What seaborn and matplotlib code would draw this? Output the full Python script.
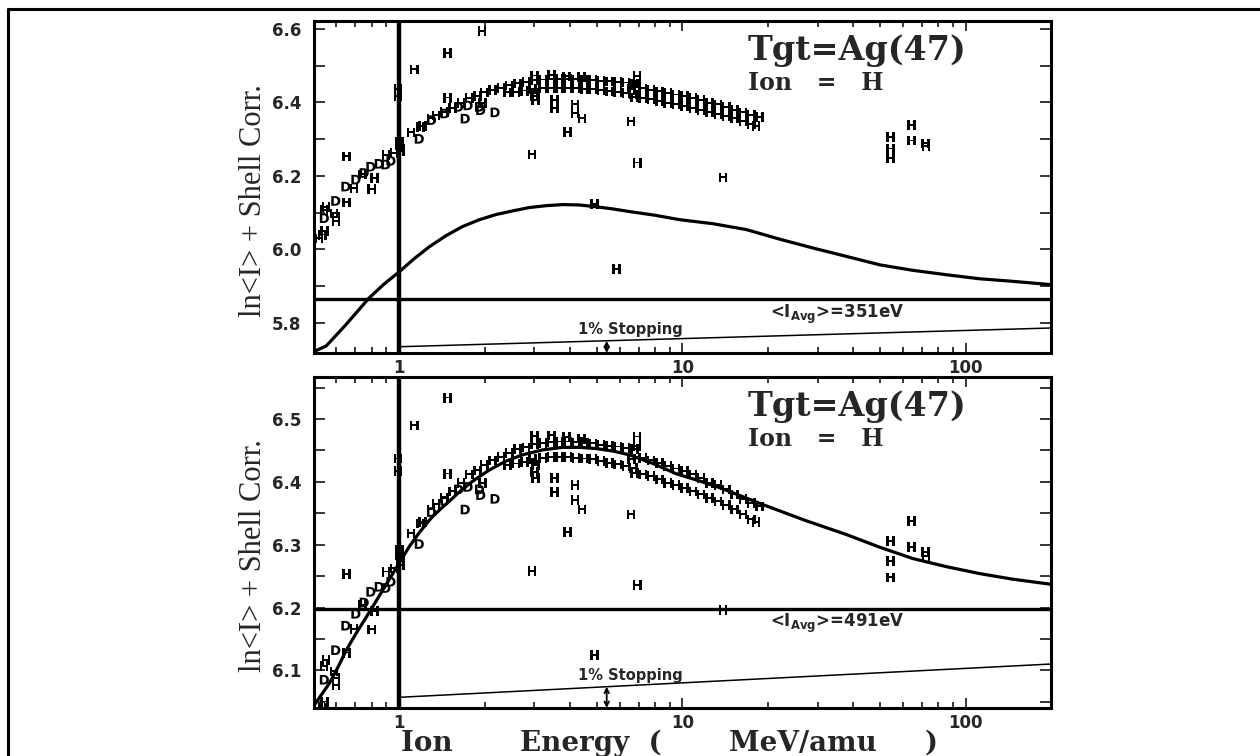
import numpy as np
import pandas as pd
import matplotlib
matplotlib.use("Agg")
import matplotlib.pyplot as plt
from matplotlib.lines import Line2D
from matplotlib.ticker import MultipleLocator, FormatStrFormatter, FixedLocator, NullFormatter
import seaborn as sns

sns.set_style("ticks")
plt.rcParams['font.family'] = ['DejaVu Sans']
plt.rcParams['font.weight'] = 'bold'
plt.rcParams['mathtext.fontset'] = 'dejavusans'

# --- experimental points (same data in both panels) ---
h_energy = [1.48, 1.13, 1.96, 0.652, 0.80, 2.94, 6.92, 6.59, 3.93, 4.89, 3.53, 3.53, 4.18, 4.18,
            4.42, 3.03, 3.0, 3.03, 1.97, 1.48, 13.9, 5.85, 1.10, 1.19,
            54.2, 54.2, 54.2, 64.3, 64.3, 72.2, 72.5,
            3.0, 3.45, 3.9, 4.4, 6.9, 6.9, 6.6, 6.7,
            0.551, 0.543, 0.589, 0.598, 0.652, 0.693, 0.817, 0.742, 0.897, 0.96, 0.535, 0.545, 0.52, 0.598,
            0.99, 0.99, 1.0, 1.0, 1.01, 1.01]
h_value = [6.534, 6.490, 6.594, 6.253, 6.165, 6.258, 6.236, 6.348, 6.320, 6.124, 6.406, 6.384, 6.395, 6.371,
           6.356, 6.406, 6.416, 6.427, 6.398, 6.413, 6.196, 5.947, 6.318, 6.334,
           6.306, 6.274, 6.248, 6.338, 6.296, 6.288, 6.281,
           6.473, 6.474, 6.471, 6.469, 6.472, 6.457, 6.436, 6.422,
           6.116, 6.107, 6.098, 6.076, 6.128, 6.166, 6.194, 6.204, 6.257, 6.262, 6.040, 6.050, 6.030, 6.088,
           6.437, 6.417, 6.292, 6.283, 6.275, 6.268]

band_hi_energy = [1.209, 1.294, 1.348, 1.442, 1.543, 1.652, 1.767, 1.891, 1.997, 2.137, 2.287, 2.447,
                  2.618, 2.803, 3.0, 3.21, 3.435, 3.676, 3.935, 4.21, 4.506, 4.82, 5.16, 5.52, 5.91,
                  6.32, 6.77, 7.24, 7.75, 8.29, 8.87, 9.50, 10.16, 10.88, 11.64, 12.46, 13.33, 14.27,
                  15.27, 16.34, 17.49, 18.71]
band_hi_value = [6.336, 6.356, 6.365, 6.374, 6.385, 6.398, 6.412, 6.418, 6.427, 6.434, 6.440, 6.446,
                 6.452, 6.455, 6.460, 6.462, 6.463, 6.464, 6.464, 6.463, 6.462, 6.461, 6.459, 6.457, 6.456,
                 6.454, 6.452, 6.438, 6.434, 6.430, 6.425, 6.421, 6.417, 6.412, 6.406, 6.398, 6.395, 6.388,
                 6.380, 6.373, 6.366, 6.361]

band_lo_energy = [2.414, 2.584, 2.765, 2.958, 3.21, 3.435, 3.676, 3.935, 4.21, 4.506, 4.82, 5.16, 5.52,
                  5.91, 6.32, 6.77, 7.24, 7.75, 8.29, 8.87, 9.50, 10.16, 10.88, 11.64, 12.46, 13.33,
                  14.27, 15.27, 16.34, 17.49, 18.2]
band_lo_value = [6.427, 6.429, 6.432, 6.436, 6.438, 6.440, 6.440, 6.440, 6.438, 6.437, 6.436, 6.433, 6.430,
                 6.428, 6.425, 6.414, 6.412, 6.409, 6.404, 6.398, 6.395, 6.390, 6.385, 6.380, 6.374, 6.369,
                 6.363, 6.356, 6.348, 6.340, 6.336]

d_energy = [0.597, 0.648, 0.703, 0.752, 0.794, 0.850, 0.897, 0.935, 0.544, 1.177, 1.71, 1.94, 1.92, 2.18,
            1.3, 1.45, 1.62, 1.75]
d_value = [6.132, 6.171, 6.190, 6.208, 6.225, 6.233, 6.231, 6.241, 6.085, 6.301, 6.356, 6.379, 6.388, 6.373,
           6.352, 6.370, 6.388, 6.392]

# --- theory curves ---
fit351_energy = [0.5, 0.552, 0.648, 0.783, 0.885, 1.0, 1.13, 1.276, 1.46, 1.67, 1.92, 2.20, 2.52, 2.88,
                 3.3, 3.77, 4.32, 4.97, 5.7, 6.50, 8.0, 9.75, 12.8, 16.8, 22.0, 28.8, 37.9, 49.7, 65.1,
                 85.5, 112, 147, 200]
fit351_value = [5.722, 5.737, 5.795, 5.868, 5.906, 5.939, 5.975, 6.007, 6.037, 6.062, 6.081, 6.095, 6.105,
                6.114, 6.119, 6.122, 6.121, 6.116, 6.110, 6.103, 6.093, 6.081, 6.070, 6.054, 6.028, 6.004,
                5.981, 5.958, 5.943, 5.931, 5.920, 5.913, 5.904]
fit491_energy = [0.5, 0.566, 0.60, 0.65, 0.70, 0.773, 0.87, 1.0, 1.085, 1.18, 1.294, 1.40, 1.50, 1.63,
                 1.815, 2.08, 2.38, 2.72, 3.21, 3.77, 4.35, 4.97, 5.7, 6.5, 7.9, 9.5, 11.4, 13.7, 19.2,
                 27.0, 38, 49.7, 65, 85.5, 112, 147, 200]
fit491_value = [6.044, 6.079, 6.100, 6.132, 6.157, 6.188, 6.226, 6.271, 6.297, 6.320, 6.342, 6.357, 6.369,
                6.384, 6.401, 6.419, 6.433, 6.443, 6.451, 6.455, 6.455, 6.453, 6.449, 6.443, 6.429, 6.413,
                6.402, 6.390, 6.364, 6.339, 6.316, 6.296, 6.278, 6.265, 6.254, 6.245, 6.237]

stop_energy = [1.0, 200]
stop351_value = [5.735, 5.786]
stop491_value = [6.057, 6.110]
arrow_energy = 5.4

avg_level = [5.865, 6.198]
avg_text = [r'<I$_{\mathbf{Avg}}$>=351eV', r'<I$_{\mathbf{Avg}}$>=491eV']
ylims = [(5.718, 6.622), (6.04, 6.567)]
ymajor = [0.2, 0.1]

pts = pd.DataFrame({
    'energy': h_energy + band_hi_energy + band_lo_energy + d_energy,
    'value': h_value + band_hi_value + band_lo_value + d_value,
    'ion': ['H'] * (len(h_energy) + len(band_hi_energy) + len(band_lo_energy)) + ['D'] * len(d_energy),
})

fig = plt.figure(figsize=(12.6, 7.56), dpi=100)
ax_top = fig.add_axes([0.2492, 0.5331, 0.5849, 0.4392])
ax_bot = fig.add_axes([0.2492, 0.0635, 0.5849, 0.4378])

fits = [(fit351_energy, fit351_value), (fit491_energy, fit491_value)]
stops = [stop351_value, stop491_value]

for i, ax in enumerate([ax_top, ax_bot]):
    ax.set_xscale('log')
    sns.scatterplot(data=pts, x='energy', y='value', style='ion',
                    markers={'H': r'$\mathbf{H}$', 'D': r'$\mathbf{D}$'},
                    color='black', s=48, linewidth=0, legend=False, ax=ax)
    sns.lineplot(x=fits[i][0], y=fits[i][1], color='black', lw=2.3, ax=ax, sort=False)
    sns.lineplot(x=stop_energy, y=stops[i], color='black', lw=1.1, ax=ax, sort=False)
    ax.axhline(avg_level[i], color='black', lw=2.4)
    ax.axvline(1.0, color='black', lw=3.2)
    ax.set_xlim(0.5, 200)
    ax.set_ylim(*ylims[i])

    span = ylims[i][1] - ylims[i][0]
    y_on_line = np.interp(np.log10(arrow_energy), np.log10(stop_energy), stops[i])
    ax.annotate('', xy=(arrow_energy, ylims[i][0]), xytext=(arrow_energy, y_on_line),
                arrowprops=dict(arrowstyle='<->', lw=1.3, color='black',
                                mutation_scale=8, shrinkA=0, shrinkB=0))
    ax.text(4.26, y_on_line + span * 0.010, '1% Stopping',
            fontsize=10.5, fontweight='bold', va='bottom')
    ax.text(20.3, avg_level[i] - span * 0.010, avg_text[i],
            fontsize=12, fontweight='bold', va='top')

    ax.text(0.589, 0.882, 'Tgt=Ag(47)', transform=ax.transAxes, fontfamily='DejaVu Serif',
            fontsize=24, fontweight='bold', va='baseline')
    ax.text(0.589, 0.792, 'Ion   =   H', transform=ax.transAxes, fontfamily='DejaVu Serif',
            fontsize=17, fontweight='bold', va='baseline')

    ax.xaxis.set_major_locator(FixedLocator([1, 10, 100]))
    ax.set_xticklabels(['1', '10', '100'])
    ax.xaxis.set_minor_locator(FixedLocator([0.6, 0.7, 0.8, 0.9, 2, 3, 4, 5, 6, 7, 8, 9,
                                             20, 30, 40, 50, 60, 70, 80, 90, 200]))
    ax.xaxis.set_minor_formatter(NullFormatter())
    ax.yaxis.set_major_locator(MultipleLocator(ymajor[i]))
    ax.yaxis.set_minor_locator(MultipleLocator(ymajor[i] / 2))
    ax.yaxis.set_major_formatter(FormatStrFormatter('%.1f'))

    ax.tick_params(which='both', direction='in', top=True, right=True, width=1.3, labelsize=12)
    ax.tick_params(axis='x', which='major', length=7, pad=4)
    ax.tick_params(axis='x', which='minor', length=4)
    ax.tick_params(axis='y', which='both', length=8, pad=9)
    for sp in ax.spines.values():
        sp.set_linewidth(2.2)
        sp.set_color('black')

    ax.set_xlabel('')
    ax.set_ylabel('ln<I> + Shell Corr.', fontfamily='Liberation Serif', fontsize=22,
                  fontweight='normal')
    ax.yaxis.set_label_coords(-0.063, 0.46)

ax_bot.set_xlabel('Ion       Energy  (       MeV/amu     )', fontfamily='DejaVu Serif', fontsize=20,
                  fontweight='bold')
ax_bot.xaxis.label.set_va('baseline')
ax_bot.xaxis.set_label_coords(0.483, -0.130)

# scanned page border
fig.add_artist(Line2D([8 / 1260, 1], [1 - 9 / 756, 1 - 9 / 756], transform=fig.transFigure,
                      color='black', lw=2.2))
fig.add_artist(Line2D([8 / 1260, 8 / 1260], [0, 1 - 9 / 756], transform=fig.transFigure,
                      color='black', lw=2.2))

fig.savefig('out.png', dpi=100, facecolor='white')
